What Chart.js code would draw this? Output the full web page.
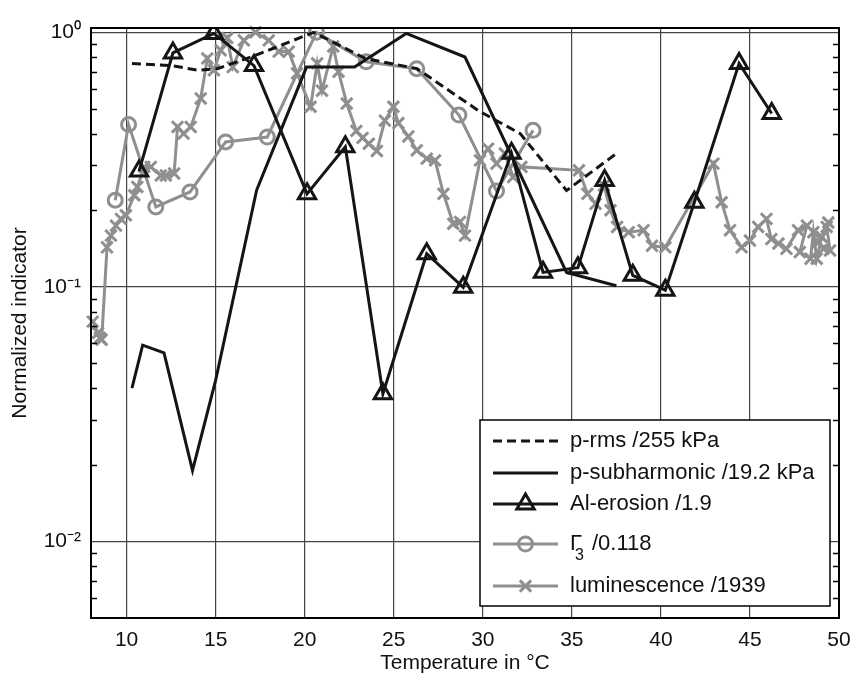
<!DOCTYPE html>
<html>
<head>
<meta charset="utf-8">
<title>Normalized indicator vs temperature</title>
<script src="https://cdn.jsdelivr.net/npm/chart.js@4.4.1/dist/chart.umd.min.js"></script>
<style>
  html, body { margin: 0; padding: 0; background: #fff; }
  canvas { display: block; }
</style>
</head>
<body>
<canvas id="chart" width="853" height="676"></canvas>
<script>
// temperatures in °C, values normalized
const prmsT = [10.3, 12.5, 14.0, 15.1, 17.2, 20.5, 23.4, 26.3, 29.8, 32.1, 34.7, 37.5];
const prmsV = [0.755, 0.74, 0.71, 0.72, 0.81, 1.0, 0.79, 0.72, 0.49, 0.40, 0.239, 0.334];

const psubT = [10.3, 10.9, 12.1, 13.7, 15.0, 17.3, 20.1, 22.8, 25.7, 29.0, 34.7, 37.5];
const psubV = [0.040, 0.059, 0.055, 0.019, 0.043, 0.24, 0.73, 0.73, 0.99, 0.80, 0.114, 0.101];

const alT = [10.7, 12.6, 14.9, 17.15, 20.13, 22.28, 24.39, 26.85, 28.9, 31.61, 33.38, 35.34, 36.84, 38.42, 40.25, 41.88, 44.39, 46.22];
const alV = [0.285, 0.83, 0.99, 0.74, 0.232, 0.355, 0.038, 0.135, 0.0996, 0.335, 0.114, 0.119, 0.262, 0.111, 0.097, 0.215, 0.755, 0.48];

const g3T = [9.36, 10.11, 11.64, 13.56, 15.56, 17.9, 20.66, 23.45, 26.29, 28.66, 30.77, 32.82];
const g3V = [0.219, 0.434, 0.206, 0.236, 0.371, 0.388, 1.0, 0.766, 0.72, 0.473, 0.238, 0.412];

const lumT = [8.1, 8.4, 8.5, 8.6, 8.9, 9.12, 9.4, 9.68, 9.96, 10.43, 10.6, 10.99, 11.36, 11.92, 12.2,
  12.67, 12.86, 13.2, 13.6, 14.16, 14.53, 14.9, 15.28, 15.65, 15.96, 16.58, 17.24, 17.98, 18.54, 19.1,
  19.57, 20.33, 20.7, 20.97, 21.6, 21.9, 22.36, 22.9, 23.25, 23.6, 24.05, 24.5, 24.98, 25.26, 25.82,
  26.29, 26.85, 27.32, 27.79, 28.34, 28.72, 29.0, 29.84, 30.3, 30.77, 31.24, 31.7, 32.17, 35.4, 35.87,
  36.33, 36.8, 37.17, 37.54, 38.19, 39.03, 39.5, 40.25, 42.95, 43.41, 43.88, 44.53, 45.0, 45.46, 45.93,
  46.2, 46.6, 47.05, 47.7, 48.2, 47.8, 48.4, 48.56, 48.75, 49.03, 49.31, 49.5, 49.13, 48.85, 49.4];
const lumV = [0.073, 0.066, 0.063, 0.062, 0.143, 0.159, 0.174, 0.185, 0.191, 0.229, 0.247, 0.296, 0.296, 0.274, 0.274,
  0.279, 0.425, 0.40, 0.425, 0.55, 0.79, 0.71, 0.85, 0.95, 0.73, 0.93, 1.0, 0.93, 0.84, 0.84,
  0.69, 0.51, 0.755, 0.59, 0.88, 0.70, 0.525, 0.41, 0.385, 0.365, 0.342, 0.45, 0.51, 0.44, 0.39,
  0.344, 0.319, 0.314, 0.232, 0.177, 0.18, 0.159, 0.314, 0.349, 0.305, 0.334, 0.27, 0.296, 0.287, 0.232,
  0.212, 0.25, 0.20, 0.172, 0.164, 0.167, 0.145, 0.143, 0.305, 0.215, 0.167, 0.143, 0.152, 0.172, 0.185,
  0.154, 0.148, 0.141, 0.167, 0.174, 0.137, 0.129, 0.164, 0.129, 0.157, 0.172, 0.139, 0.141, 0.15, 0.179];

const xTicks = [10, 15, 20, 25, 30, 35, 40, 45, 50];
const yTicks = [0.01, 0.1, 1];
const yTickLabels = ["10\u207B\u00B2", "10\u207B\u00B9", "10\u2070"];
const yMinor = [0.006, 0.007, 0.008, 0.009, 0.02, 0.03, 0.04, 0.05, 0.06, 0.07, 0.08, 0.09,
  0.2, 0.3, 0.4, 0.5, 0.6, 0.7, 0.8, 0.9];

const BLACK = "#151515";
const GREY = "#8f8f8f";
const FONT = "'Liberation Sans', Arial, Helvetica, sans-serif";

function pts(xs, ys) {
  return xs.map((x, i) => ({ x: x, y: ys[i] }));
}

// box around the plot, inner minor ticks and the legend
const framePlugin = {
  id: "framePlugin",
  afterDatasetsDraw(chart) {
    const { ctx, chartArea: a, scales } = chart;
    const y = scales.y;
    ctx.save();
    ctx.strokeStyle = "#000";
    ctx.lineWidth = 1.5;
    yMinor.forEach((v) => {
      const py = Math.round(y.getPixelForValue(v)) + 0.5;
      ctx.beginPath();
      ctx.moveTo(a.left, py);
      ctx.lineTo(a.left + 6, py);
      ctx.moveTo(a.right, py);
      ctx.lineTo(a.right - 6, py);
      ctx.stroke();
    });
    ctx.lineWidth = 2;
    ctx.strokeRect(a.left, a.top, a.right - a.left, a.bottom - a.top);

    // legend
    const bx = a.right - 359, by = a.bottom - 198, bw = 350, bh = 186;
    ctx.fillStyle = "#fff";
    ctx.fillRect(bx, by, bw, bh);
    ctx.lineWidth = 1.5;
    ctx.strokeStyle = "#000";
    ctx.strokeRect(bx, by, bw, bh);

    const rows = [21, 53, 84, 124, 166];
    const x0 = bx + 13, x1 = bx + 78, tx = bx + 90;
    chart.data.datasets.forEach((ds, i) => {
      const ry = by + rows[i];
      ctx.strokeStyle = ds.borderColor;
      ctx.lineWidth = ds.borderWidth;
      ctx.setLineDash(ds.borderDash || []);
      ctx.beginPath();
      ctx.moveTo(x0, ry);
      ctx.lineTo(x1, ry);
      ctx.stroke();
      ctx.setLineDash([]);
      const cx = (x0 + x1) / 2;
      if (ds.pointRadius > 0) drawMarker(ctx, ds.pointStyle, cx, ry, ds.pointRadius, ds.pointBorderWidth);

      ctx.fillStyle = "#111";
      ctx.textBaseline = "middle";
      ctx.textAlign = "left";
      if (ds.label === "gamma") {
        ctx.font = "22px " + FONT;
        ctx.fillText("\u0393", tx, ry);
        ctx.font = "16px " + FONT;
        ctx.fillText("3", tx + 5, ry + 12);
        ctx.font = "22px " + FONT;
        ctx.fillText("/0.118", tx + 22, ry);
      } else {
        ctx.font = "22px " + FONT;
        ctx.fillText(ds.label, tx, ry);
      }
    });
    ctx.restore();
  },
};

function drawMarker(ctx, style, x, y, r, lw) {
  ctx.lineWidth = lw;
  ctx.beginPath();
  if (style === "triangle") {
    let rad = 0;
    ctx.moveTo(x + Math.sin(rad) * r, y - Math.cos(rad) * r);
    rad += (2 * Math.PI) / 3;
    ctx.lineTo(x + Math.sin(rad) * r, y - Math.cos(rad) * r);
    rad += (2 * Math.PI) / 3;
    ctx.lineTo(x + Math.sin(rad) * r, y - Math.cos(rad) * r);
    ctx.closePath();
  } else if (style === "circle") {
    ctx.arc(x, y, r, 0, Math.PI * 2);
  } else if (style === "crossRot") {
    const d = r * Math.SQRT1_2;
    ctx.moveTo(x - d, y - d);
    ctx.lineTo(x + d, y + d);
    ctx.moveTo(x - d, y + d);
    ctx.lineTo(x + d, y - d);
  }
  ctx.stroke();
}

const tickFont = { family: FONT, size: 21 };

new Chart(document.getElementById("chart").getContext("2d"), {
  type: "line",
  data: {
    datasets: [
      {
        label: "p-rms /255 kPa",
        data: pts(prmsT, prmsV),
        borderColor: BLACK,
        borderWidth: 3,
        borderDash: [9, 5],
        pointRadius: 0,
      },
      {
        label: "p-subharmonic /19.2 kPa",
        data: pts(psubT, psubV),
        borderColor: BLACK,
        borderWidth: 3,
        pointRadius: 0,
      },
      {
        label: "Al-erosion /1.9",
        data: pts(alT, alV),
        borderColor: BLACK,
        borderWidth: 3,
        pointStyle: "triangle",
        pointRadius: 10,
        pointBorderWidth: 3,
        pointBorderColor: BLACK,
        pointBackgroundColor: "rgba(0,0,0,0)",
      },
      {
        label: "gamma",
        data: pts(g3T, g3V),
        borderColor: GREY,
        borderWidth: 3,
        pointStyle: "circle",
        pointRadius: 7,
        pointBorderWidth: 3,
        pointBorderColor: GREY,
        pointBackgroundColor: "rgba(0,0,0,0)",
      },
      {
        label: "luminescence /1939",
        data: pts(lumT, lumV),
        borderColor: GREY,
        borderWidth: 3,
        pointStyle: "crossRot",
        pointRadius: 8,
        pointBorderWidth: 3,
        pointBorderColor: GREY,
        clip: 12,
      },
    ],
  },
  options: {
    responsive: false,
    animation: false,
    layout: { padding: { top: 28, right: 14, left: 0, bottom: 0 } },
    plugins: {
      legend: { display: false },
      tooltip: { enabled: false },
    },
    scales: {
      x: {
        type: "linear",
        min: 8,
        max: 50,
        afterBuildTicks: (s) => {
          s.ticks = xTicks.map((v) => ({ value: v }));
        },
        afterFit: (s) => {
          s.height = 58;
          s.paddingLeft = 0;
          s.paddingRight = 0;
        },
        grid: { color: "#444", lineWidth: 1.2, drawTicks: false },
        border: { display: false },
        ticks: { font: tickFont, color: "#111", padding: 10, maxRotation: 0, autoSkip: false },
        title: {
          display: true,
          text: "Temperature in \u00B0C",
          font: tickFont,
          color: "#111",
          padding: { top: 0, bottom: 0 },
        },
      },
      y: {
        type: "logarithmic",
        min: 0.005,
        max: 1.04,
        afterBuildTicks: (s) => {
          s.ticks = yTicks.map((v) => ({ value: v }));
        },
        afterFit: (s) => {
          s.width = 91;
          s.paddingTop = 0;
          s.paddingBottom = 0;
        },
        grid: { color: "#444", lineWidth: 1.2, drawTicks: false },
        border: { display: false },
        ticks: {
          font: tickFont,
          color: "#111",
          padding: 10,
          autoSkip: false,
          callback: (v, i) => yTickLabels[i],
        },
        title: {
          display: true,
          text: "Normalized indicator",
          font: tickFont,
          color: "#111",
          padding: { top: 8, bottom: 0 },
        },
      },
    },
  },
  plugins: [framePlugin],
});
</script>
</body>
</html>
